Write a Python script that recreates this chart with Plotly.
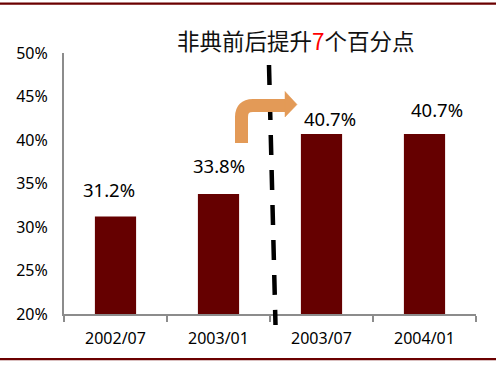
import plotly.graph_objects as go

categories = ["2002/07", "2003/01", "2003/07", "2004/01"]
values = [0.312, 0.338, 0.407, 0.407]
value_labels = ["31.2%", "33.8%", "40.7%", "40.7%"]
y_ticks = [0.20, 0.25, 0.30, 0.35, 0.40, 0.45, 0.50]
title_text = "非典前后提升<span style='color:#FF0000'>7</span>个百分点"

# layout geometry (pixels)
W, H = 497, 365
L, R, T, B = 64, 476, 53, 314

def px(x):
    return (x - L) / (R - L)

def py(y):
    return (B - y) / (B - T)

BAR = "#650000"
AXIS = "#8c8c8c"
FONT = "Noto Sans"

fig = go.Figure()
fig.add_trace(go.Bar(
    x=categories, y=values, width=0.4,
    marker=dict(color=BAR, line=dict(width=0)),
    hoverinfo="skip",
))

label_shift = [(-7, 27), (0, 28), (8, 15.5), (12, 24.5)]
for c, v, t, (dx, dy) in zip(categories, values, value_labels, label_shift):
    fig.add_annotation(x=c, y=v, text=t, showarrow=False, xshift=dx, yshift=dy,
                       xanchor="center", yanchor="middle",
                       font=dict(family=FONT, size=18.5, color="#000000"))

fig.add_annotation(x=px(296), y=py(40), xref="paper", yref="paper", text=title_text,
                   showarrow=False, xanchor="center", yanchor="middle",
                   font=dict(family="Noto Sans CJK SC", size=22.5, color="#111111"))

shapes = []
# top and bottom rules (thin filled bands)
for y0, y1 in ((2.5, 4.7), (358, 360.2)):
    shapes.append(dict(type="rect", xref="paper", yref="paper",
                       x0=px(0), x1=px(W - 1), y0=py(y1), y1=py(y0),
                       fillcolor="#6B0000", line=dict(width=0)))
# dashed divider
shapes.append(dict(type="line", xref="paper", yref="paper",
                   x0=px(269), y0=py(65), x1=px(275.5), y1=py(325),
                   line=dict(color="#000000", width=4.5, dash="20px,15px")))
# bent arrow
ORANGE = "#E39A57"
path = (f"M {px(241.5)},{py(143)} L {px(241.5)},{py(117)} "
        f"Q {px(241.5)},{py(105.5)} {px(253)},{py(105.5)} L {px(286)},{py(105.5)}")
shapes.append(dict(type="path", xref="paper", yref="paper", path=path,
                   line=dict(color=ORANGE, width=13)))
head = f"M {px(285)},{py(91.5)} L {px(297)},{py(104.5)} L {px(285)},{py(117)} Z"
shapes.append(dict(type="path", xref="paper", yref="paper", path=head,
                   fillcolor=ORANGE, line=dict(color=ORANGE, width=0.5)))

fig.update_layout(
    width=W, height=H,
    margin=dict(l=L, r=W - R, t=T, b=H - B, pad=0),
    paper_bgcolor="white", plot_bgcolor="white",
    showlegend=False, shapes=shapes,
    font=dict(family=FONT, color="#000000"),
    xaxis=dict(type="category", range=[-0.5, 3.5], showline=True, linecolor=AXIS, linewidth=2,
               ticks="outside", tickson="boundaries", ticklen=6, tickwidth=2, tickcolor=AXIS,
               tickfont=dict(family=FONT, size=16, color="#000000"), showgrid=False,
               ticklabelstandoff=9),
    yaxis=dict(range=[0.2, 0.5], tickvals=y_ticks, tickformat=".0%", showline=True,
               linecolor=AXIS, linewidth=2, showgrid=False, zeroline=False, ticks="",
               tickfont=dict(family=FONT, size=16, color="#000000"), ticklabelstandoff=11),
)

post = """
document.documentElement.style.overflow='hidden';
document.body.style.margin='0';
document.body.style.overflow='hidden';
"""

fig.write_html(
    "out.html",
    config={"displayModeBar": False, "staticPlot": True},
    post_script=post,
)
